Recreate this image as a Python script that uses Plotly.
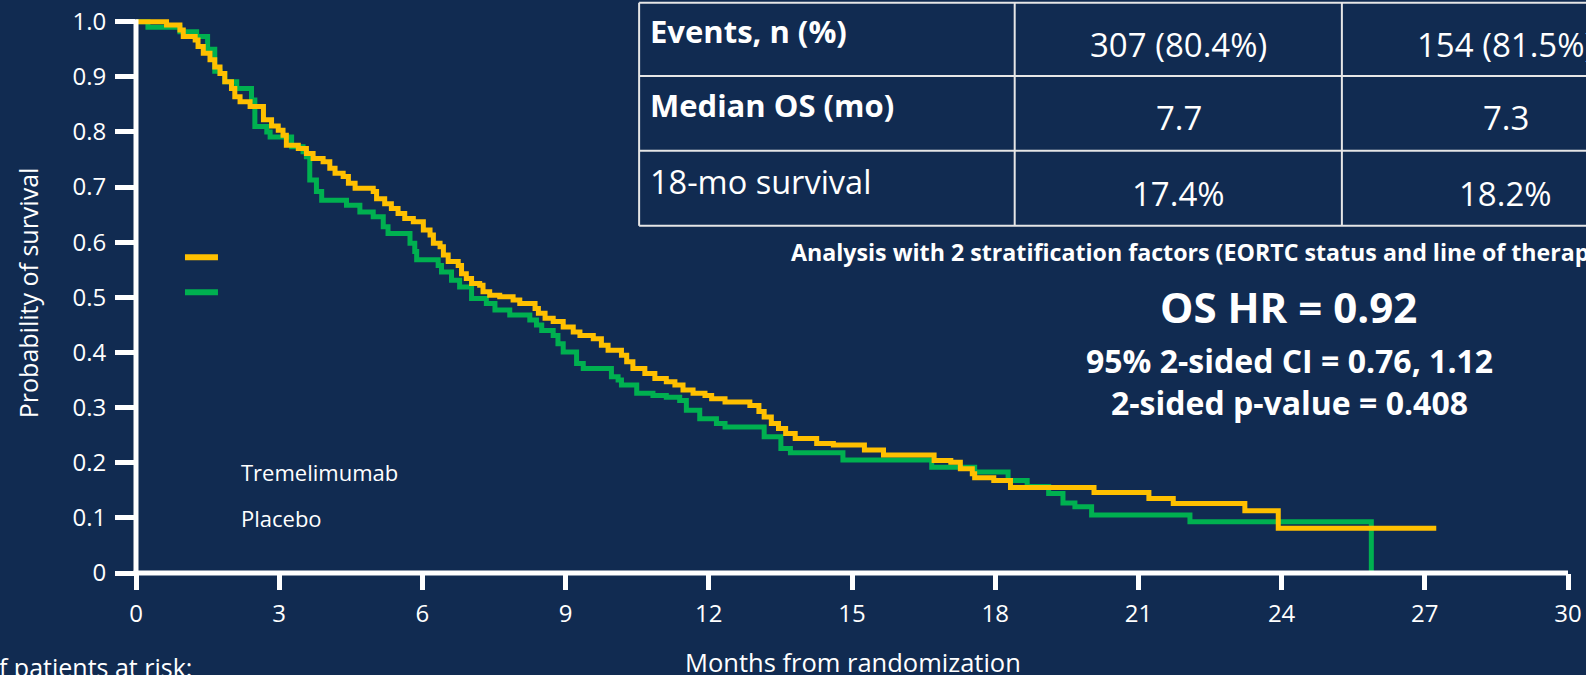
import plotly.graph_objects as go

# ---------------- data ----------------
trem_t = [0, 0.64, 0.92, 0.99, 1.24, 1.30, 1.41, 1.55, 1.65, 1.76, 1.86, 2.00, 2.07, 2.18, 2.39,
          2.67, 2.84, 2.98, 3.08, 3.15, 3.40, 3.57, 3.71, 3.92, 4.06, 4.17, 4.34, 4.45, 4.59,
          4.97, 5.04, 5.21, 5.35, 5.49, 5.63, 5.81, 6.02, 6.16, 6.23, 6.37, 6.44, 6.54, 6.75,
          6.82, 6.92, 7.03, 7.20, 7.27, 7.41, 7.62, 7.90, 8.04, 8.36, 8.43, 8.57, 8.74, 8.95,
          9.16, 9.30, 9.58, 9.75, 9.89, 10.17, 10.28, 10.41, 10.66, 10.87, 11.11, 11.29, 11.46,
          11.67, 11.92, 12.06, 12.34, 12.86, 13.05, 13.16, 13.31, 13.46, 13.61, 13.81, 14.26,
          14.61, 15.26, 15.66, 16.72, 17.07, 17.27, 17.52, 17.57, 17.97, 18.32, 20.07, 21.22,
          21.73, 23.23, 23.93, 27.24]
trem_s = [1.000, 0.994, 0.985, 0.973, 0.967, 0.955, 0.943, 0.931, 0.918, 0.906, 0.891, 0.879, 0.864,
          0.855, 0.846, 0.822, 0.811, 0.803, 0.794, 0.776, 0.770, 0.761, 0.752, 0.746, 0.734, 0.725,
          0.719, 0.707, 0.698, 0.692, 0.679, 0.670, 0.661, 0.652, 0.643, 0.637, 0.622, 0.613, 0.598,
          0.592, 0.577, 0.565, 0.558, 0.543, 0.534, 0.525, 0.522, 0.510, 0.504, 0.501, 0.495, 0.489,
          0.480, 0.471, 0.462, 0.456, 0.446, 0.437, 0.431, 0.425, 0.413, 0.404, 0.395, 0.383, 0.371,
          0.362, 0.353, 0.347, 0.341, 0.332, 0.326, 0.322, 0.316, 0.310, 0.304, 0.293, 0.283, 0.271,
          0.262, 0.253, 0.244, 0.235, 0.232, 0.223, 0.214, 0.204, 0.201, 0.189, 0.180, 0.173, 0.168,
          0.155, 0.146, 0.135, 0.126, 0.113, 0.081, 0.081]

plac_t = [0, 0.25, 0.92, 1.27, 1.50, 1.65, 1.76, 1.86, 2.11, 2.42, 2.49, 2.74, 2.81, 3.26, 3.50,
          3.57, 3.64, 3.78, 3.89, 4.41, 4.69, 4.97, 5.18, 5.28, 5.74, 5.84, 5.88, 6.33, 6.40, 6.61,
          6.78, 7.03, 7.34, 7.52, 7.83, 8.25, 8.39, 8.50, 8.74, 8.84, 8.95, 9.23, 9.37, 9.96, 10.10,
          10.17, 10.49, 10.83, 11.11, 11.39, 11.53, 11.81, 12.16, 12.34, 13.16, 13.51, 13.71, 14.81,
          16.67, 17.57, 18.27, 18.67, 19.12, 19.42, 19.67, 20.02, 22.08, 25.88]
plac_s = [1.000, 0.990, 0.982, 0.973, 0.950, 0.910, 0.906, 0.891, 0.879, 0.858, 0.810, 0.800, 0.791,
          0.773, 0.764, 0.755, 0.713, 0.692, 0.676, 0.667, 0.655, 0.646, 0.628, 0.616, 0.598, 0.583,
          0.568, 0.558, 0.546, 0.531, 0.519, 0.498, 0.489, 0.477, 0.468, 0.459, 0.450, 0.440, 0.431,
          0.416, 0.401, 0.380, 0.371, 0.356, 0.350, 0.341, 0.326, 0.322, 0.319, 0.313, 0.295, 0.280,
          0.271, 0.265, 0.247, 0.226, 0.218, 0.205, 0.192, 0.183, 0.168, 0.157, 0.144, 0.127, 0.120,
          0.105, 0.093, 0.000]

x_tickvals = [0, 3, 6, 9, 12, 15, 18, 21, 24, 27, 30]
y_tickvals = [0, 0.1, 0.2, 0.3, 0.4, 0.5, 0.6, 0.7, 0.8, 0.9, 1.0]
y_ticktext = ["0", "0.1", "0.2", "0.3", "0.4", "0.5", "0.6", "0.7", "0.8", "0.9", "1.0"]

series_names = ["Tremelimumab", "Placebo"]
table_labels = ["Events, n (%)", "Median OS (mo)", "18-mo survival"]
table_label_bold = [True, True, False]
table_trem = ["307 (80.4%)", "7.7", "17.4%"]
table_plac = ["154 (81.5%)", "7.3", "18.2%"]
analysis_note = "Analysis with 2 stratification factors (EORTC status and line of therapy)"
hr_text = "OS HR = 0.92"
ci_text = "95% 2-sided CI = 0.76, 1.12"
p_text = "2-sided p-value = 0.408"

# ---------------- styling / layout ----------------
BG = "#112B51"
YELLOW = "#FFC000"
GREEN = "#00B050"
WHITE = "#FFFFFF"
FONT = "Open Sans"

W, H = 1586, 675
L, R, T, B = 136, 17.5, 15, 102.3
PW = W - L - R
PH = H - T - B
Y0PX = T + PH           # pixel row of y = 0
YSCALE = 551.0           # pixels per unit survival
Y_TOP = PH / YSCALE


def px(x):
    return (x - L) / PW


def py(y):
    return (Y0PX - y) / PH


fig = go.Figure()
fig.add_trace(go.Scatter(x=plac_t, y=plac_s, mode="lines", line=dict(color=GREEN, width=5, shape="hv"),
                         name=series_names[1], hoverinfo="skip"))
fig.add_trace(go.Scatter(x=trem_t, y=trem_s, mode="lines", line=dict(color=YELLOW, width=5, shape="hv"),
                         name=series_names[0], hoverinfo="skip"))

shapes = []
# axis lines
shapes.append(dict(type="line", xref="paper", yref="paper", x0=0, x1=0, y0=py(Y0PX + 2.5),
                   y1=py(Y0PX - YSCALE - 2.5), line=dict(color=WHITE, width=5), layer="above"))
shapes.append(dict(type="line", xref="paper", yref="paper", x0=px(L - 2.5), x1=1.0, y0=0, y1=0,
                   line=dict(color=WHITE, width=5), layer="above"))
# legend swatches
shapes.append(dict(type="line", xref="paper", yref="paper", x0=px(185), x1=px(218), y0=py(257), y1=py(257),
                   line=dict(color=YELLOW, width=6)))
shapes.append(dict(type="line", xref="paper", yref="paper", x0=px(185), x1=px(218), y0=py(292), y1=py(292),
                   line=dict(color=GREEN, width=6)))
# table grid
TL = "#E6E6E6"
row_lines = [2.7, 76, 150.7, 225.7]
col_lines = [639.3, 1015, 1342.3]
for ry in row_lines:
    shapes.append(dict(type="line", xref="paper", yref="paper", x0=px(col_lines[0]), x1=px(1700),
                       y0=py(ry), y1=py(ry), line=dict(color=TL, width=2)))
for cx in col_lines:
    shapes.append(dict(type="line", xref="paper", yref="paper", x0=px(cx), x1=px(cx),
                       y0=py(row_lines[0]), y1=py(row_lines[-1]), line=dict(color=TL, width=2)))

ann = []


def text(s, x, y, size, bold=False, xanchor="center", yanchor="middle", angle=0):
    ann.append(dict(text=("<b>%s</b>" % s) if bold else s, xref="paper", yref="paper",
                    x=px(x), y=py(y), xanchor=xanchor, yanchor=yanchor, showarrow=False,
                    textangle=angle, font=dict(family=FONT, size=size, color=WHITE)))


# axis titles and side texts
text("Probability of survival", 28, 293, 25, angle=-90)
text("Months from randomization", 853, 662, 25.5)
text("No. of patients at risk:", 194, 667, 25, xanchor="right")
text(series_names[0], 239, 471.5, 22, xanchor="left")
text(series_names[1], 239, 518, 22, xanchor="left")

# table content
label_y = [30.5, 104.5, 181.5]
label_size = [31, 31, 32.5]
value_y = [44, 117.5, 193]
for i in range(3):
    text(table_labels[i], 648, label_y[i], label_size[i], bold=table_label_bold[i], xanchor="left")
    text(table_trem[i], 1179, value_y[i], 33)
    text(table_plac[i], 1506, value_y[i], 33)

text(analysis_note, 789, 252, 23.2, bold=True, xanchor="left")
text(hr_text, 1289, 306.5, 42, bold=True)
text(ci_text, 1289.5, 360.5, 32, bold=True)
text(p_text, 1290, 402.5, 32, bold=True)

fig.update_layout(
    width=W, height=H, autosize=False,
    margin=dict(l=L, r=R, t=T, b=B, pad=0, autoexpand=False),
    paper_bgcolor=BG, plot_bgcolor=BG,
    showlegend=False,
    shapes=shapes, annotations=ann,
    xaxis=dict(range=[0, 30], tickvals=x_tickvals, ticks="outside", ticklen=16, tickwidth=5,
               tickcolor=WHITE, showline=False, showgrid=False, zeroline=False, automargin=False,
               tickfont=dict(family=FONT, size=24, color=WHITE), ticklabelstandoff=3, fixedrange=True),
    yaxis=dict(range=[0, Y_TOP], tickvals=y_tickvals, ticktext=y_ticktext, ticks="outside", ticklen=20,
               tickwidth=5, tickcolor=WHITE, showline=False, showgrid=False, zeroline=False, automargin=False,
               tickfont=dict(family=FONT, size=24, color=WHITE), ticklabelstandoff=4, fixedrange=True),
)

fig.write_html("out.html")
